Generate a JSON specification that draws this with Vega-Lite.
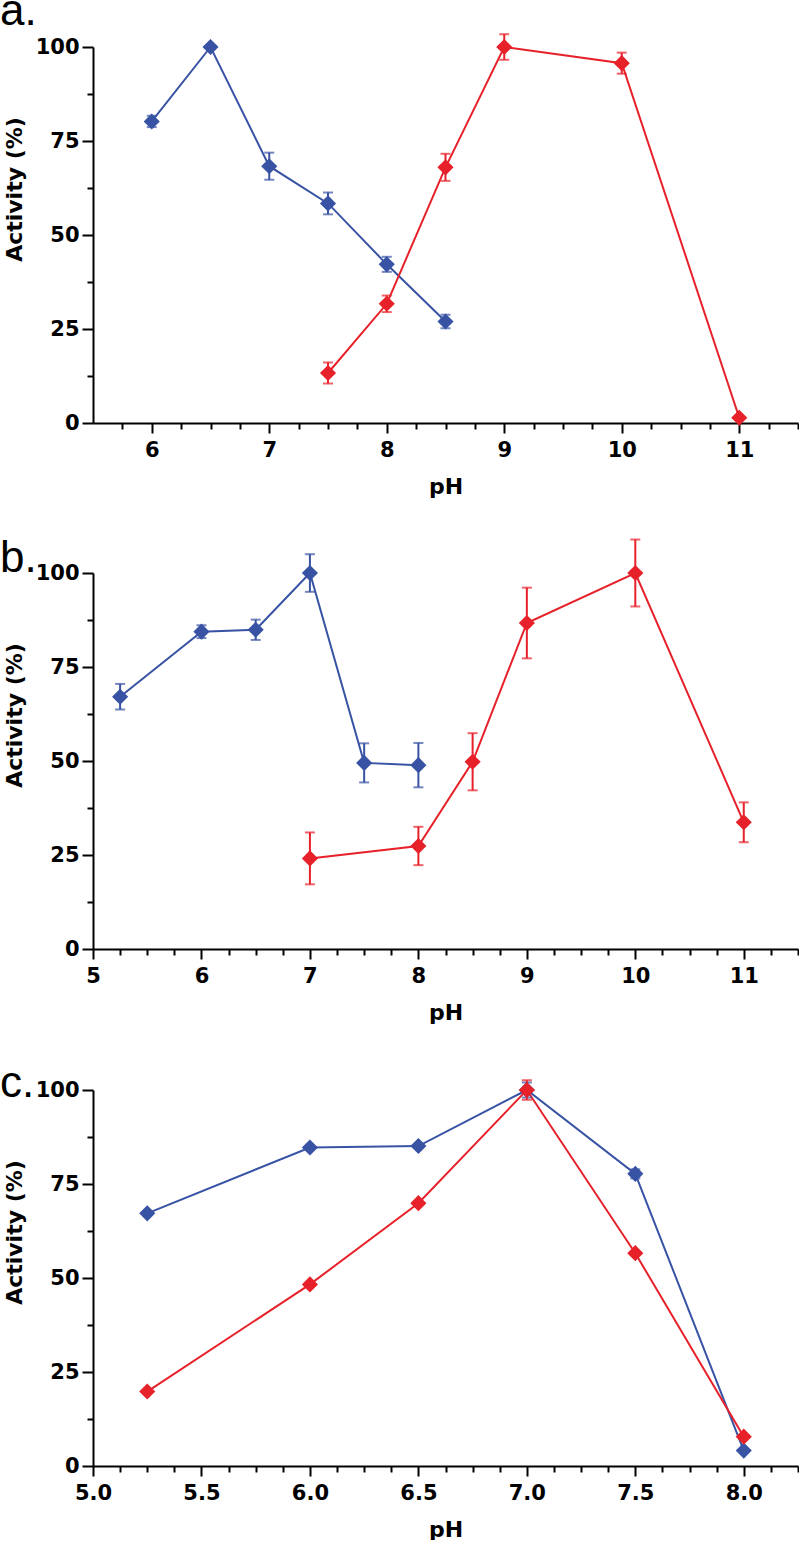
{
  "$schema": "https://vega.github.io/schema/vega-lite/v6.json",
  "padding": {"left": 0, "top": -10, "right": 0, "bottom": 0},
  "spacing": 39,
  "datasets": {
    "a": [
      {"series": "A", "pH": 6, "activity": 80.2, "sd": 1.5},
      {"series": "A", "pH": 6.5, "activity": 100, "sd": 0},
      {"series": "A", "pH": 7, "activity": 68.3, "sd": 3.6},
      {"series": "A", "pH": 7.5, "activity": 58.4, "sd": 2.9},
      {"series": "A", "pH": 8, "activity": 42.2, "sd": 2.0},
      {"series": "A", "pH": 8.5, "activity": 27.0, "sd": 1.8},
      {"series": "B", "pH": 7.5, "activity": 13.3, "sd": 2.8},
      {"series": "B", "pH": 8, "activity": 31.7, "sd": 2.2},
      {"series": "B", "pH": 8.5, "activity": 68.0, "sd": 3.6},
      {"series": "B", "pH": 9, "activity": 100, "sd": 3.4},
      {"series": "B", "pH": 10, "activity": 95.7, "sd": 2.8},
      {"series": "B", "pH": 11, "activity": 1.4, "sd": 0}
    ],
    "b": [
      {"series": "A", "pH": 5.25, "activity": 67.1, "sd": 3.4},
      {"series": "A", "pH": 6, "activity": 84.4, "sd": 1.7},
      {"series": "A", "pH": 6.5, "activity": 84.9, "sd": 2.7},
      {"series": "A", "pH": 7, "activity": 100, "sd": 5.0},
      {"series": "A", "pH": 7.5, "activity": 49.5, "sd": 5.2},
      {"series": "A", "pH": 8, "activity": 48.9, "sd": 5.9},
      {"series": "B", "pH": 7, "activity": 24.1, "sd": 6.9},
      {"series": "B", "pH": 8, "activity": 27.4, "sd": 5.1},
      {"series": "B", "pH": 8.5, "activity": 49.8, "sd": 7.6},
      {"series": "B", "pH": 9, "activity": 86.7, "sd": 9.4},
      {"series": "B", "pH": 10, "activity": 100, "sd": 8.9},
      {"series": "B", "pH": 11, "activity": 33.7, "sd": 5.3}
    ],
    "c": [
      {"series": "A", "pH": 5.25, "activity": 67.2, "sd": 0},
      {"series": "A", "pH": 6, "activity": 84.7, "sd": 0},
      {"series": "A", "pH": 6.5, "activity": 85.1, "sd": 0},
      {"series": "A", "pH": 7, "activity": 100, "sd": 2.0},
      {"series": "A", "pH": 7.5, "activity": 77.7, "sd": 1.2},
      {"series": "A", "pH": 8, "activity": 4.1, "sd": 0},
      {"series": "B", "pH": 5.25, "activity": 19.8, "sd": 0},
      {"series": "B", "pH": 6, "activity": 48.3, "sd": 0},
      {"series": "B", "pH": 6.5, "activity": 69.9, "sd": 0},
      {"series": "B", "pH": 7, "activity": 100, "sd": 2.6},
      {"series": "B", "pH": 7.5, "activity": 56.6, "sd": 0},
      {"series": "B", "pH": 8, "activity": 7.8, "sd": 0}
    ]
  },
  "vconcat": [
    {
      "width": 705, "height": 376,
      "title": {"text": "a.", "offset": -1},
      "data": {"name": "a"},
      "encoding": {
        "x": {"field": "pH", "type": "quantitative",
          "scale": {"domain": [5.5, 11.5], "nice": false, "zero": false},
          "axis": {"title": "pH",
            "values": [5.75, 6, 6.25, 6.5, 6.75, 7, 7.25, 7.5, 7.75, 8, 8.25, 8.5, 8.75, 9, 9.25, 9.5, 9.75, 10, 10.25, 10.5, 10.75, 11, 11.25, 11.5],
            "labelExpr": "datum.value % 1 === 0 ? format(datum.value, 'd') : ''",
            "tickSize": {"condition": {"test": "datum.value % 1 === 0", "value": 10}, "value": 6}}},
        "y": {"field": "activity", "type": "quantitative",
          "scale": {"domain": [0, 100], "nice": false},
          "axis": {"title": "Activity (%)",
            "values": [0, 12.5, 25, 37.5, 50, 62.5, 75, 87.5, 100],
            "labelExpr": "datum.value % 25 === 0 ? format(datum.value, 'd') : ''",
            "tickSize": {"condition": {"test": "datum.value % 25 === 0", "value": 11}, "value": 6}}},
        "color": {"field": "series", "type": "nominal",
          "scale": {"domain": ["A", "B"], "range": ["#3853A4", "#E7212A"]}, "legend": null}
      },
      "layer": [
        {"mark": {"type": "line", "strokeWidth": 2}},
        {"mark": {"type": "errorbar", "thickness": 2, "ticks": {"size": 10, "thickness": 2}},
         "encoding": {"yError": {"field": "sd"}}},
        {"mark": {"type": "point", "shape": "diamond", "filled": true, "size": 260, "opacity": 1}}
      ]
    },
    {
      "spacing": 39,
      "vconcat": [
        {
          "width": 705, "height": 376,
          "title": {"text": "b.", "offset": -42},
          "data": {"name": "b"},
          "encoding": {
            "x": {"field": "pH", "type": "quantitative",
              "scale": {"domain": [5, 11.5], "nice": false, "zero": false},
              "axis": {"title": "pH",
                "values": [5, 5.25, 5.5, 5.75, 6, 6.25, 6.5, 6.75, 7, 7.25, 7.5, 7.75, 8, 8.25, 8.5, 8.75, 9, 9.25, 9.5, 9.75, 10, 10.25, 10.5, 10.75, 11, 11.25, 11.5],
                "labelExpr": "datum.value % 1 === 0 ? format(datum.value, 'd') : ''",
                "tickSize": {"condition": {"test": "datum.value % 1 === 0", "value": 10}, "value": 6}}},
            "y": {"field": "activity", "type": "quantitative",
              "scale": {"domain": [0, 100], "nice": false},
              "axis": {"title": "Activity (%)",
                "values": [0, 12.5, 25, 37.5, 50, 62.5, 75, 87.5, 100],
                "labelExpr": "datum.value % 25 === 0 ? format(datum.value, 'd') : ''",
                "tickSize": {"condition": {"test": "datum.value % 25 === 0", "value": 11}, "value": 6}}},
            "color": {"field": "series", "type": "nominal",
              "scale": {"domain": ["A", "B"], "range": ["#3853A4", "#E7212A"]}, "legend": null}
          },
          "layer": [
            {"mark": {"type": "line", "strokeWidth": 2}},
            {"mark": {"type": "errorbar", "thickness": 2, "ticks": {"size": 10, "thickness": 2}},
             "encoding": {"yError": {"field": "sd"}}},
            {"mark": {"type": "point", "shape": "diamond", "filled": true, "size": 260, "opacity": 1}}
          ]
        },
        {
          "width": 705, "height": 376,
          "title": {"text": "c.", "offset": -27},
          "data": {"name": "c"},
          "encoding": {
            "x": {"field": "pH", "type": "quantitative",
              "scale": {"domain": [5, 8.25], "nice": false, "zero": false},
              "axis": {"title": "pH",
                "values": [5, 5.125, 5.25, 5.375, 5.5, 5.625, 5.75, 5.875, 6, 6.125, 6.25, 6.375, 6.5, 6.625, 6.75, 6.875, 7, 7.125, 7.25, 7.375, 7.5, 7.625, 7.75, 7.875, 8, 8.125, 8.25],
                "labelExpr": "datum.value % 0.5 === 0 ? format(datum.value, '.1f') : ''",
                "tickSize": {"condition": {"test": "datum.value % 0.5 === 0", "value": 10}, "value": 6}}},
            "y": {"field": "activity", "type": "quantitative",
              "scale": {"domain": [0, 100], "nice": false},
              "axis": {"title": "Activity (%)",
                "values": [0, 12.5, 25, 37.5, 50, 62.5, 75, 87.5, 100],
                "labelExpr": "datum.value % 25 === 0 ? format(datum.value, 'd') : ''",
                "tickSize": {"condition": {"test": "datum.value % 25 === 0", "value": 11}, "value": 6}}},
            "color": {"field": "series", "type": "nominal",
              "scale": {"domain": ["A", "B"], "range": ["#3853A4", "#E7212A"]}, "legend": null}
          },
          "layer": [
            {"mark": {"type": "line", "strokeWidth": 2}},
            {"mark": {"type": "errorbar", "thickness": 2, "ticks": {"size": 10, "thickness": 2}},
             "encoding": {"yError": {"field": "sd"}}},
            {"mark": {"type": "point", "shape": "diamond", "filled": true, "size": 260, "opacity": 1}}
          ]
        }
      ]
    }
  ],
  "config": {
    "view": {"stroke": null},
    "axis": {
      "grid": false,
      "domainColor": "black", "domainWidth": 2,
      "tickColor": "black", "tickWidth": 2,
      "labelFont": "DejaVu Sans", "labelFontWeight": "bold", "labelFontSize": 21, "labelColor": "black",
      "labelOverlap": false, "labelFlush": false,
      "titleFont": "DejaVu Sans", "titleFontWeight": "bold", "titleFontSize": 22, "titleColor": "black"
    },
    "axisX": {"labelPadding": 6, "titleBaseline": "alphabetic", "titleY": 70},
    "axisY": {"labelPadding": 3, "titleX": -67, "titleY": 142},
    "title": {"font": "Liberation Sans", "fontSize": 44, "fontWeight": "normal", "anchor": "start", "frame": "group", "baseline": "alphabetic", "dx": -93, "color": "black"}
  }
}
